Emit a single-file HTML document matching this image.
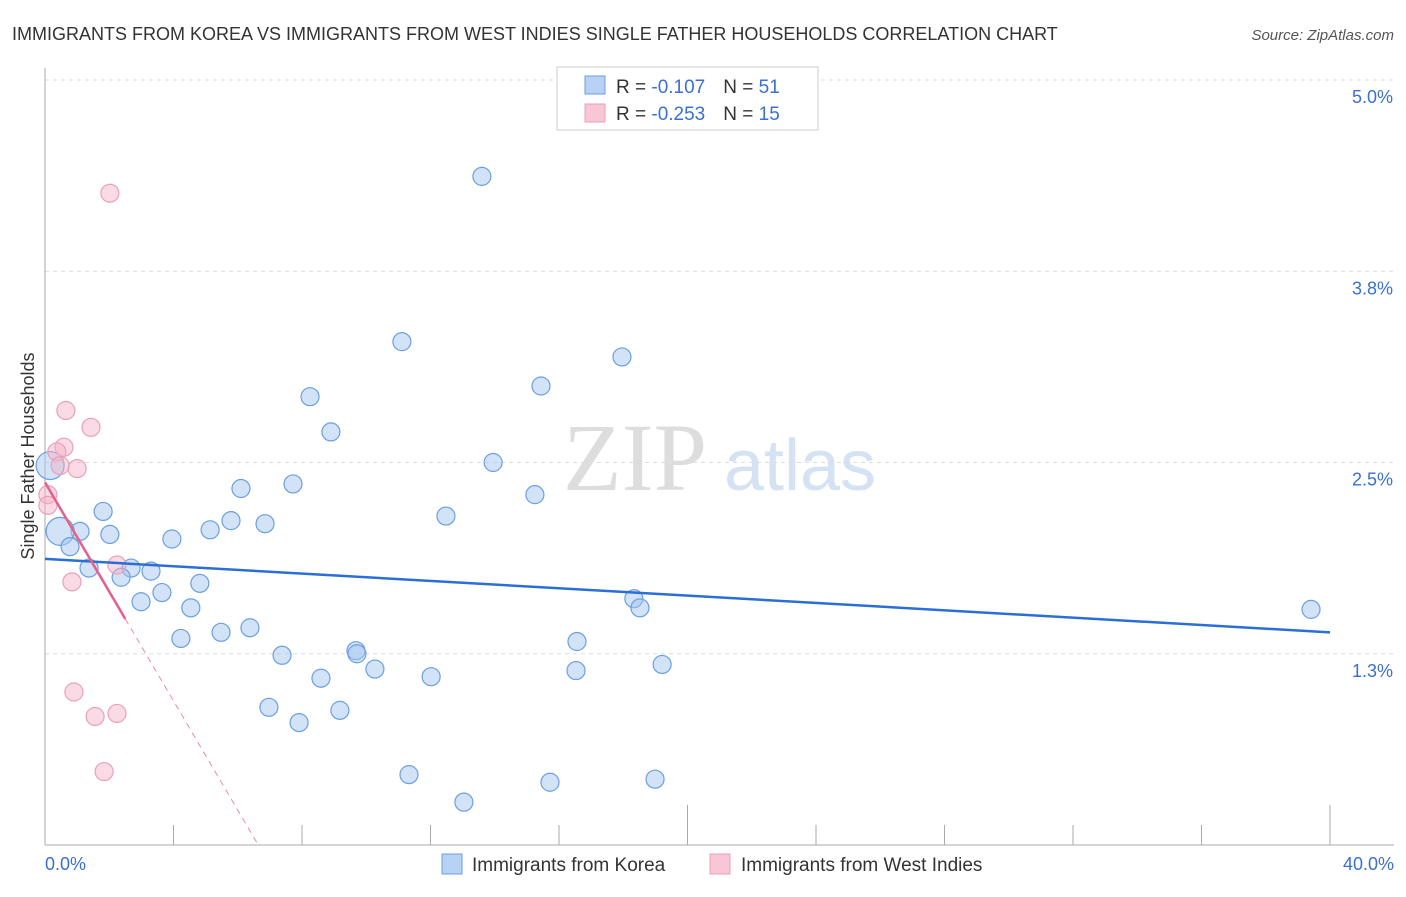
<!DOCTYPE html>
<html><head><meta charset="utf-8"><style>
body{margin:0;background:#fff;font-family:"Liberation Sans",sans-serif}
</style></head><body>
<svg id="c" width="1406" height="892" xmlns="http://www.w3.org/2000/svg" style="font-family:'Liberation Sans',sans-serif">
<text x="12" y="40" font-size="18" fill="#333">IMMIGRANTS FROM KOREA VS IMMIGRANTS FROM WEST INDIES SINGLE FATHER HOUSEHOLDS CORRELATION CHART</text>
<text x="1394" y="40" font-size="15" fill="#555" font-style="italic" text-anchor="end">Source: ZipAtlas.com</text>
<text transform="translate(34,456) rotate(-90)" font-size="18" fill="#333" text-anchor="middle">Single Father Households</text>
<g><text x="635" y="490" font-size="96" fill="#ddd" font-family="Liberation Serif,serif" text-anchor="middle">ZIP</text><text x="800" y="490" font-size="72" fill="#d4e2f4" text-anchor="middle">atlas</text></g>
<g id="grid"></g><g id="axes"></g><g id="pts"></g><g id="trend"></g>
<g>
<rect x="557" y="67" width="261" height="63" fill="#fff" stroke="#ccc"/>
<rect x="585" y="76" width="20" height="18" fill="#b8d2f5" stroke="#6a9fe0"/>
<rect x="585" y="104" width="20" height="18" fill="#f9c6d6" stroke="#eba0b8"/>
<text x="616" y="93" font-size="19" fill="#333">R = <tspan fill="#3a70d0">-0.107</tspan><tspan dx="18">N = </tspan><tspan fill="#3a70d0">51</tspan></text>
<text x="616" y="120" font-size="19" fill="#333">R = <tspan fill="#3a70d0">-0.253</tspan><tspan dx="18">N = </tspan><tspan fill="#3a70d0">15</tspan></text>
</g>
<g>
<rect x="442" y="854" width="20" height="20" fill="#b8d2f5" stroke="#6a9fe0"/>
<text x="472" y="871" font-size="19" fill="#333">Immigrants from Korea</text>
<rect x="710" y="854" width="20" height="20" fill="#f9c6d6" stroke="#eba0b8"/>
<text x="741" y="871" font-size="19" fill="#333">Immigrants from West Indies</text>
</g>
</svg>
<script>
const yTicks=[5.0,3.75,2.5,1.25];
const yTickLabels=["5.0%","3.8%","2.5%","1.3%"];
const xTickLabels=["0.0%","40.0%"];
const koreaX=[13.60,11.11,17.96,8.25,15.44,8.90,13.95,15.25,6.10,7.72,12.48,5.79,6.85,5.14,3.95,1.81,1.09,2.02,0.47,0.78,2.68,3.30,1.37,2.37,4.82,3.64,2.99,4.54,18.33,18.52,39.41,4.23,5.48,6.38,16.56,7.38,9.68,9.71,10.27,16.53,19.21,8.59,12.02,6.97,9.18,7.91,11.33,15.72,18.99,13.04,0.16];
const koreaY=[4.37,3.29,3.19,2.93,3.00,2.70,2.50,2.29,2.33,2.36,2.15,2.12,2.10,2.06,2.00,2.18,2.05,2.03,2.05,1.95,1.81,1.79,1.81,1.75,1.71,1.65,1.59,1.55,1.61,1.55,1.54,1.35,1.39,1.42,1.33,1.24,1.27,1.25,1.15,1.14,1.18,1.09,1.10,0.90,0.88,0.80,0.46,0.41,0.43,0.28,2.48];
const wiX=[2.02,0.65,1.43,0.59,0.37,1.00,0.47,0.09,0.09,2.24,0.84,0.90,1.56,2.24,1.84];
const wiY=[4.26,2.84,2.73,2.60,2.57,2.46,2.48,2.29,2.22,1.83,1.72,1.00,0.84,0.86,0.48];
const koreaTrend=[1.87,1.39];
const wiTrend=[2.37,-0.357];
const NS="http://www.w3.org/2000/svg";
const X=v=>45+v*32.125, Y=v=>80+(5-v)*153;
function mk(p,t,a){const e=document.createElementNS(NS,t);for(const k in a)e.setAttribute(k,a[k]);document.getElementById(p).appendChild(e);return e;}
yTicks.forEach((t,i)=>{
 const l=mk('grid','line',{x1:45,x2:1394,y1:Y(t),y2:Y(t),stroke:'#ddd','stroke-dasharray':'4,4'});
 
 
 const tx=mk('grid','text',{x:1393,y:Y(t)+23,'font-size':18,fill:'#3a70d0','text-anchor':'end'});
 tx.textContent=yTickLabels[i];
 
 
});
mk('axes','line',{x1:45,x2:45,y1:68,y2:845,stroke:'#aaa'});
const ax=mk('axes','line',{x1:45,x2:1394,y1:845,y2:845,stroke:'#aaa'});


for(let i=0;i<=10;i++){const v=i*4;const t=mk('axes','line',{x1:X(v),x2:X(v),y1:(i==5||i==10)?805:825,y2:845,stroke:'#aaa'});
 
 }
[[0,'start'],[40,'end']].forEach((d,i)=>{const t=mk('axes','text',{x:i?1394:45,y:870,'font-size':18,fill:'#3a70d0','text-anchor':d[1]});t.textContent=xTickLabels[i];
 
 });
koreaX.forEach((x,i)=>{const big=(i==18||i==50);const c=mk('pts','circle',{cx:X(x),cy:Y(koreaY[i]),r:big?14:9,fill:'rgba(165,198,240,0.5)',stroke:'#6a9fe0','stroke-width':1.2});
 
 });
wiX.forEach((x,i)=>{const c=mk('pts','circle',{cx:X(x),cy:Y(wiY[i]),r:9,fill:'rgba(245,175,198,0.45)',stroke:'#eba0b8','stroke-width':1.2});
 
 });
const kt=mk('trend','line',{x1:X(0),y1:Y(koreaTrend[0]),x2:X(40),y2:Y(koreaTrend[1]),stroke:'#2a6fd6','stroke-width':2.5});


const wf=v=>wiTrend[0]+wiTrend[1]*v, x0=-wiTrend[0]/wiTrend[1];
const ws=mk('trend','line',{x1:X(0),y1:Y(wf(0)),x2:X(2.5),y2:Y(wf(2.5)),stroke:'#e5608a','stroke-width':2.5});


const wd=mk('trend','line',{x1:X(2.5),y1:Y(wf(2.5)),x2:X(x0),y2:Y(0),stroke:'#e98aa8','stroke-width':1,'stroke-dasharray':'6,5'});


</script>
</body></html>
